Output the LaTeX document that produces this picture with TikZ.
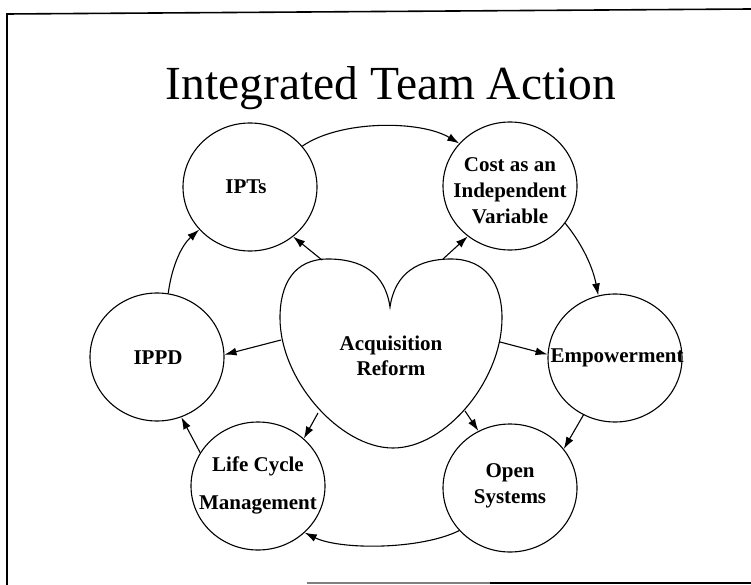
\documentclass[tikz,border=0pt]{standalone}
\usepackage{fontspec}
\setmainfont{Liberation Serif}
\usetikzlibrary{shapes.geometric,arrows.meta}
\begin{document}
\begin{tikzpicture}[x=1pt,y=-1pt,
  bub/.style={ellipse,draw,line width=1.1pt,minimum width=134pt,minimum height=128pt,inner sep=0pt},
  lbl/.style={font=\bfseries\fontsize{21}{26}\selectfont,align=center,inner sep=0pt},
  arr/.style={line width=1.1pt,-{Latex[length=12pt,width=8pt]}},
  frameline/.style={line width=1.6pt}]
\useasboundingbox (0,0) rectangle (751,585);
% frame
\draw[frameline] (7,585) -- (7,14) -- (751,9);
\draw[line width=1.4pt, gray] (307,583) -- (490,583);
\draw[frameline] (490,583) -- (751,583);
% title
\node[font=\fontsize{47.5}{56}\selectfont, anchor=base, inner sep=0pt] (title) at (391,100) {Integrated Team Action};
% bubbles
\node[bub] (ipts) at (250,187) {};
\node[bub] (cost) at (510,186) {};
\node[bub] (ippd) at (157,357) {};
\node[bub] (emp) at (615,358) {};
\node[bub] (lcm) at (258,486) {};
\node[bub] (open) at (510,488) {};
% heart
\draw[line width=1.1pt] (390,307) .. controls (385,273) and (362,259) .. (328,259)
  .. controls (294,259) and (280,284) .. (280,318)
  .. controls (280,380) and (340,448) .. (393,448)
  .. controls (446,448) and (502,380) .. (502,318)
  .. controls (502,284) and (486,259) .. (451,259)
  .. controls (418,259) and (395,273) .. (390,307) -- cycle;
\coordinate (h-ipts) at (322,260);
\coordinate (h-cost) at (443,259);
\coordinate (h-ippd) at (281,340);
\coordinate (h-emp) at (500,342);
\coordinate (h-lcm) at (318,413);
\coordinate (h-open) at (465,411);
% labels
\node[lbl] (ipts-t) at (246,187) {IPTs};
\node[lbl] (cost-t) at (510,191) {Cost as an\\Independent\\Variable};
\node[lbl] (ippd-t) at (158,358) {IPPD};
\node[lbl] (emp-t) at (617,358) {Empowerment};
\node[lbl, font=\bfseries\fontsize{21}{38}\selectfont] (lcm-t) at (258,485) {Life Cycle\\Management};
\node[lbl] (open-t) at (510,486) {Open\\Systems};
\node[lbl, font=\bfseries\fontsize{21}{25}\selectfont] (heart-t) at (391,356) {Acquisition\\Reform};
% heart arrows
\draw[arr] (h-ipts) -- (ipts.-49);
\draw[arr] (h-cost) -- (cost.-130);
\draw[arr] (h-ippd) -- (ippd.2);
\draw[arr] (h-emp) -- (emp.177);
\draw[arr] (h-lcm) -- (lcm.46);
\draw[arr] (h-open) -- (open.119);
% ring arrows
\draw[arr] (ipts.38) .. controls (340,120) and (420,120) .. (cost.140);
\draw[arr] (cost.-34) .. controls (583,245) and (593,268) .. (emp.105);
\draw[arr] (emp.-119) -- (open.36);
\draw[arr] (open.-140) .. controls (420,550) and (340,550) .. (lcm.-45);
\draw[arr] (lcm.150) -- (ippd.-68);
\draw[arr] (ippd.80) .. controls (172,265) and (182,245) .. (ipts.-140);
\end{tikzpicture}
\end{document}
